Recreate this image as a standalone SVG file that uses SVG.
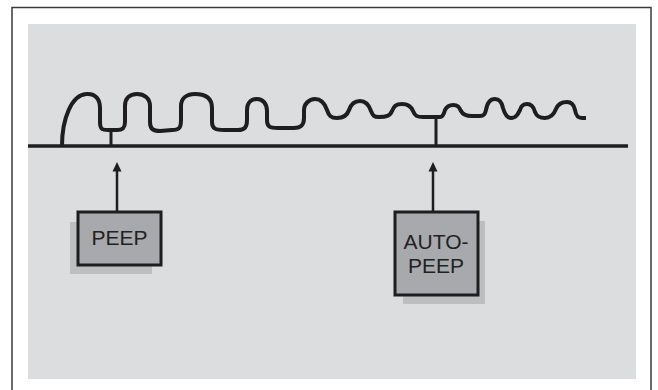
<svg xmlns="http://www.w3.org/2000/svg" width="658" height="390" viewBox="0 0 658 390">
<defs>
<style>
.frame{fill:#ffffff;stroke:#3a3a3a;stroke-width:1.5}
.panel{fill:#dcdddf}
.line{stroke:#1e1e1e;fill:none;stroke-linecap:butt}
.wave{stroke:#1e1e1e;stroke-width:4;fill:none;stroke-linejoin:round;stroke-linecap:butt}
.box{fill:#a8a9ac;stroke:#1e1e1e;stroke-width:3}
.shadow{fill:#bdbec0}
.lbl{font-family:"Liberation Sans",Arial,sans-serif;font-size:21px;fill:#222222;text-anchor:middle}
.head{fill:#1e1e1e}
</style>
</defs>
<rect class="frame" x="12" y="7.5" width="639" height="400"/>
<rect class="panel" x="28" y="24" width="608" height="355"/>
<g id="pressure-curve">
<line class="line" x1="28" y1="146" x2="628" y2="146" stroke-width="3.5"/>
<path class="wave" d="M 62 146 C 62 118, 72 95, 86 94 C 96 93, 100 100, 100 108 L 100 122 C 100 130, 103 130, 108 130 L 117 130 C 123 130, 125 128, 125 122 L 125 106 C 125 98, 130 94, 137 94 C 144 94, 150 98, 150 106 L 150 122 C 150 129, 153 131, 160 131 L 172 130 C 179 130, 181 128, 181 120 L 181 106 C 181 98, 187 94, 195 94 C 205 94, 212 98, 212 108 L 212 122 C 212 129, 216 130, 224 130 L 238 130 C 245 130, 247 127, 247 120 L 247 110 C 247 103, 251 99, 257 99 C 263 99, 267 104, 267 111 L 267 120 C 267 127, 270 128, 278 128 L 294 128 C 301 128, 304 125, 304 118 L 304 110 C 304 104, 309 99, 315 99 C 322 99, 325 104, 327 110 C 329 116, 331 118, 337 118 C 343 118, 347 116, 349 110 C 351 104, 354 101, 360 101 C 366 101, 369 105, 371 111 C 373 116, 374 117, 379 117 C 386 117, 390 116, 392 111 C 394 106, 396 104, 402 104 C 408 104, 411 106, 413 111 C 415 116, 417 117, 423 117 L 440 117 C 443 117, 444 114, 445 110 C 447 106, 449 105, 453 105 C 458 105, 459 107, 461 111 C 463 115, 466 116, 472 116 L 480 116 C 484 116, 485 114, 486 110 C 487 104, 490 99, 495 99 C 500 99, 502 103, 503 108 C 505 115, 507 118, 511 118 C 516 118, 518 114, 520 110 C 521 106, 523 104, 527 104 C 532 104, 534 108, 535 112 C 537 117, 540 118, 545 118 C 551 118, 554 114, 556 109 C 558 104, 561 102, 567 102 C 572 102, 574 105, 575 110 C 576 116, 578 118, 582 118 L 586 118"/>
<line class="line" x1="111" y1="130" x2="111" y2="146" stroke-width="3"/>
<line class="line" x1="436" y1="117" x2="436" y2="146" stroke-width="3"/>
</g>
<g id="connectors">
<line class="line" x1="117" y1="212" x2="117" y2="169" stroke-width="2.5"/>
<polygon class="head" points="117,162 112.5,171.5 121.5,171.5"/>
<line class="line" x1="433" y1="212" x2="433" y2="169" stroke-width="2.5"/>
<polygon class="head" points="433,162 428.5,171.5 437.5,171.5"/>
</g>
<g id="peep">
<rect class="shadow" x="70" y="222" width="82" height="52"/>
<rect class="box" x="78" y="212" width="83" height="53"/>
<text class="lbl" x="119.5" y="245">PEEP</text>
</g>
<g id="auto-peep">
<rect class="shadow" x="403" y="221" width="82" height="83"/>
<rect class="box" x="395" y="212" width="83" height="83"/>
<text class="lbl" x="436" y="249">AUTO-</text>
<text class="lbl" x="436" y="273">PEEP</text>
</g>
</svg>
